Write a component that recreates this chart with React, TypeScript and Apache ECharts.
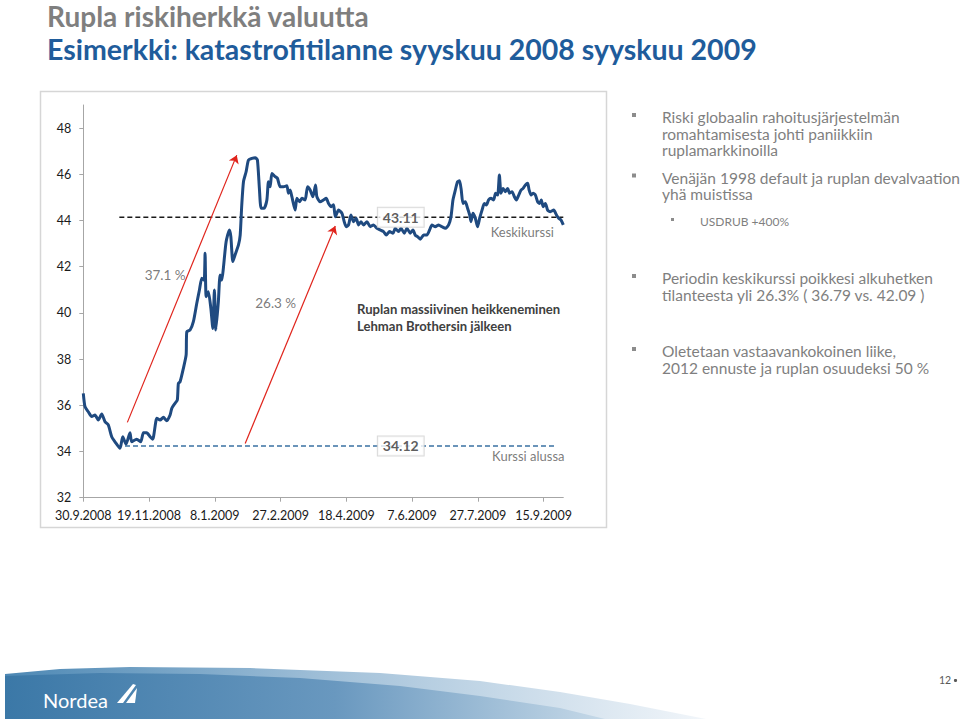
import React, { useEffect, useRef } from "react";
import * as echarts from "echarts";

// X axis: days counted from 30.9.2008, a tick every 50 days
const xTickDays = [0, 50, 100, 150, 200, 250, 300, 350];
const xTickLabels = [
  "30.9.2008", "19.11.2008", "8.1.2009", "27.2.2009",
  "18.4.2009", "7.6.2009", "27.7.2009", "15.9.2009",
];
const yTickValues = [32, 34, 36, 38, 40, 42, 44, 46, 48];

// USD/RUB: [day offset, rate]
const autumn2008: [number, number][] = [
  [0, 36.52], [1.3, 35.94], [3.8, 35.72], [6.4, 35.51], [8.9, 35.58], [11.4, 35.36],
  [14, 35.62], [16.5, 35.29], [19, 35.15], [21.6, 34.64], [24.1, 34.42], [27.9, 34.14],
  [30, 34.64], [32.5, 34.32], [35.5, 34.81], [36.8, 34.42], [40.6, 34.53], [43.7, 34.42],
  [45.7, 34.81], [48.2, 34.81], [50.8, 34.64], [52.8, 34.53], [55.9, 35.44], [58.4, 35.36],
  [60.9, 35.48], [63.5, 35.33], [66, 35.58], [67.3, 35.87], [69.8, 36.09], [71.5, 36.23],
  [72.3, 36.95], [73.6, 37.02], [76.1, 37.6], [78.2, 38.18], [78.7, 39.19], [81.2, 39.26],
  [83.7, 39.62], [86.3, 40.42], [88.3, 40.99],
];
const winter2009: [number, number][] = [
  [90.1, 41.5], [91.9, 41.42], [92.6, 42.58], [93.4, 40.7], [95.1, 40.92], [97, 40.2],
  [98.5, 39.33], [99.7, 40.99], [100.8, 39.26], [102.7, 40.49], [104, 41.64], [105.3, 41.42],
  [106.5, 41.93], [108.6, 43.08], [111.1, 43.59], [112.2, 43.3], [113.7, 42.22], [115.4, 42.51],
  [118, 42.94], [119.3, 43.37], [120.5, 44.67], [121.8, 45.68], [123.8, 46.11], [125.6, 46.62],
  [128.2, 46.69], [130.7, 46.72], [132.4, 46.62], [133.9, 45.39], [135.2, 44.53], [137.5, 44.53],
  [139.6, 44.89], [140.8, 45.68], [142.1, 45.46], [143.4, 46.04], [145.9, 45.9], [147.6, 45.83],
  [149.7, 45.46], [152.2, 45.46], [154.8, 45.5], [156, 45.18], [157.3, 45.32], [158.6, 45.03],
  [161.1, 44.45], [162.4, 44.96], [164.4, 44.81], [166.2, 44.96], [168.7, 44.89], [170.5, 45.46],
  [172.5, 45.32], [174.6, 45.03], [176.6, 45.54], [177.6, 45.03],
];
const spring2009: [number, number][] = [
  [180.1, 44.81], [182.6, 44.89], [184.7, 44.96], [186.5, 44.74], [188.5, 44.6], [190.3, 44.68],
  [191.6, 44.16], [194.1, 44.45], [196.7, 44.31], [198.4, 43.95], [199.9, 43.73], [201.7, 43.81],
  [203.5, 44.24], [205.5, 43.95], [207.5, 44.1], [209.3, 43.81], [211.1, 43.95], [213.1, 43.81],
  [215.7, 43.95], [218.2, 43.73], [220.7, 43.81], [223.3, 43.66], [225.8, 43.59], [228.3, 43.52],
  [230.4, 43.37], [232.9, 43.52], [235.5, 43.45], [237.2, 43.66], [239.7, 43.52], [241.6, 43.66],
  [244.1, 43.45], [246.1, 43.66], [248.6, 43.45], [250.7, 43.59], [252.4, 43.37], [254.2, 43.3],
  [256.2, 43.19], [258.8, 43.37], [261.3, 43.37], [263.3, 43.59], [265.1, 43.81], [267.7, 43.73],
];
const summer2009: [number, number][] = [
  [270.2, 43.81], [272.8, 43.73], [275.3, 43.66], [277.8, 43.81], [279.6, 44.16], [281.1, 44.89],
  [282.9, 45.32], [284.6, 45.68], [286.1, 45.72], [287.4, 45.32], [288.7, 44.74], [290.5, 44.81],
  [292.2, 44.53], [293.8, 44.24], [294.8, 43.95], [296.3, 44.31], [298.1, 44.1], [299.8, 43.73],
  [301.4, 44.1], [303.2, 44.45], [304.9, 44.74], [306.5, 44.67], [308.2, 44.89], [310, 44.96],
  [312, 44.89], [313.5, 45.18], [315.1, 45.1], [316.4, 45.97], [317.6, 45.18], [319.2, 45.39],
  [320.9, 45.25], [322.7, 45.39], [324.2, 45.18], [326, 45.25], [327.8, 45.03], [329.3, 44.89],
  [331.1, 45.1], [332.9, 45.32], [334.4, 45.39], [336.2, 45.54], [337.9, 45.61], [339, 45.32],
  [340.5, 45.1], [342, 45.18], [343.8, 45.1], [345.5, 44.81], [347, 44.74], [348.3, 44.89],
  [349.6, 44.6], [351.4, 44.74], [353.1, 44.45], [355.2, 44.38], [357.7, 44.45], [359.8, 44.24],
  [361.5, 44.1], [363.3, 44.02], [365, 43.81],
];

// Reference levels and annotations
const averageLevel = 44.14;
const averageText = "43.11";
const averageSpan = [27.4, 365];
const startLevel = 34.24;
const startText = "34.12";
const startSpan = [31.7, 359.7];
const boxDay = 241.4;
const arrowCoords: [number, number][][] = [
  [[33.5, 35.26], [116.7, 46.83]],
  [[123.1, 34.35], [191.6, 43.76]],
];
const arrowTexts = ["37.1 %", "26.3 %"];
const arrowTextAt: [number, number][] = [[62.2, 41.66], [146.3, 40.43]];
const levelNames = ["Keskikurssi", "Kurssi alussa"];
const levelNameAt: [number, number][] = [[333.8, 43.52], [338.4, 33.81]];

const FONT = 'Lato, "Noto Sans", sans-serif';

const bulletLines = [
  { t: "Riski globaalin rahoitusjärjestelmän", y: 117, bullet: true },
  { t: "romahtamisesta johti paniikkiin", y: 133.5 },
  { t: "ruplamarkkinoilla", y: 150 },
  { t: "Venäjän 1998 default ja ruplan devalvaation", y: 177.5, bullet: true },
  { t: "yhä muistissa", y: 194 },
  { t: "Periodin keskikurssi poikkesi alkuhetken", y: 278, bullet: true },
  { t: "tilanteesta yli 26.3% ( 36.79 vs. 42.09 )", y: 294.5 },
  { t: "Oletetaan vastaavankokoinen liike,", y: 351, bullet: true },
  { t: "2012 ennuste ja ruplan osuudeksi 50 %", y: 367.5 },
];

export default function App() {
  const ref = useRef<HTMLDivElement>(null);
  useEffect(() => {
    if (!ref.current) return;
    const chart = echarts.init(ref.current, null, { renderer: "svg" });
    const rub = [...autumn2008, ...winter2009, ...spring2009, ...summer2009];

    const txtGray = "#7f7f7f";
    const graphics: any[] = [
      {
        type: "text", x: 47, y: 16,
        style: { text: "Rupla riskiherkkä valuutta", fill: "#7f7f7f", font: `bold 28px ${FONT}`, verticalAlign: "middle", textVerticalAlign: "middle" },
      },
      {
        type: "text", x: 47, y: 48.5,
        style: { text: "Esimerkki: katastrofitilanne syyskuu 2008 syyskuu 2009", fill: "#1f5c9b", font: `bold 28.5px ${FONT}`, verticalAlign: "middle", textVerticalAlign: "middle" },
      },
      {
        type: "rect", shape: { x: 40.5, y: 91.5, width: 566, height: 436 },
        style: { fill: "none", stroke: "#d6d6d6", lineWidth: 1.5 }, z: -1,
      },
      {
        type: "text", x: 357, y: 309,
        style: { text: "Ruplan massiivinen heikkeneminen", fill: "#404040", font: `bold 13.1px ${FONT}`, verticalAlign: "middle", textVerticalAlign: "middle" },
      },
      {
        type: "text", x: 357, y: 325.5,
        style: { text: "Lehman Brothersin jälkeen", fill: "#404040", font: `bold 13.1px ${FONT}`, verticalAlign: "middle", textVerticalAlign: "middle" },
      },
    ];
    bulletLines.forEach((l) => {
      graphics.push({
        type: "text", x: 662, y: l.y,
        style: { text: l.t, fill: txtGray, font: `15.5px ${FONT}`, verticalAlign: "middle", textVerticalAlign: "middle" },
      });
      if (l.bullet) {
        graphics.push({ type: "rect", shape: { x: 632, y: l.y - 4, width: 4, height: 4 }, style: { fill: "#8c8c8c" } });
      }
    });
    graphics.push({
      type: "text", x: 700, y: 221,
      style: { text: "USDRUB +400%", fill: txtGray, font: `12px ${FONT}`, verticalAlign: "middle", textVerticalAlign: "middle" },
    });
    graphics.push({ type: "rect", shape: { x: 671, y: 218, width: 3, height: 3 }, style: { fill: "#8c8c8c" } });

    // footer wave
    graphics.push({
      type: "polygon",
      shape: { points: [[5, 674], [60, 669], [130, 667], [250, 668], [380, 673], [480, 681], [560, 692], [630, 704], [706, 719], [5, 719]] },
      style: {
        fill: { type: "linear", x: 0, y: 0, x2: 1, y2: 0, colorStops: [
          { offset: 0, color: "#4d88b4" }, { offset: 0.5, color: "#a7c4db" }, { offset: 1, color: "#f2f6fa" } ] },
      },
    });
    graphics.push({
      type: "polygon",
      shape: { points: [[5, 676], [100, 673], [200, 674], [300, 678], [400, 686], [480, 696], [560, 708], [605, 719], [5, 719]] },
      style: {
        fill: { type: "linear", x: 0, y: 0, x2: 1, y2: 0, colorStops: [
          { offset: 0, color: "#3b78a7" }, { offset: 0.55, color: "#6998bf" }, { offset: 1, color: "#c6d9e8" } ] },
      },
    });
    graphics.push({
      type: "text", x: 43, y: 700,
      style: { text: "Nordea", fill: "#ffffff", font: `20px ${FONT}`, verticalAlign: "middle", textVerticalAlign: "middle" },
    });
    graphics.push({ type: "polygon", shape: { points: [[117, 703], [133, 684], [136, 685], [123, 703]] }, style: { fill: "#ffffff" } });
    graphics.push({ type: "polygon", shape: { points: [[126, 703], [137, 688], [135, 703]] }, style: { fill: "#ffffff" } });
    graphics.push({
      type: "text", x: 939, y: 680,
      style: { text: "12", fill: "#595959", font: `10.5px ${FONT}`, verticalAlign: "middle", textVerticalAlign: "middle" },
    });
    graphics.push({ type: "circle", shape: { cx: 955.5, cy: 680.5, r: 1.6 }, style: { fill: "#595959" } });

    const labelItems: any[] = [
      {
        value: [boxDay, averageLevel], name: averageText,
        label: { fontWeight: "bold", fontSize: 14, color: "#333", backgroundColor: "#fff", borderColor: "#cfcfcf", borderWidth: 1, padding: [3, 5, 2, 5] },
      },
      {
        value: [boxDay, startLevel], name: startText,
        label: { fontWeight: "bold", fontSize: 14, color: "#333", backgroundColor: "#fff", borderColor: "#cfcfcf", borderWidth: 1, padding: [3, 5, 2, 5] },
      },
      ...arrowTexts.map((t, i) => ({ value: arrowTextAt[i], name: t, label: { fontSize: 13.5, color: "#595959" } })),
      ...levelNames.map((t, i) => ({ value: levelNameAt[i], name: t, label: { fontSize: 13, color: "#595959" } })),
    ];

    chart.setOption({
      animation: false,
      textStyle: { fontFamily: FONT },
      grid: { left: 83.3, right: 396.7, top: 105, bottom: 222.3, containLabel: false, outerBoundsMode: "none" },
      xAxis: {
        type: "value", min: 0, max: 365, interval: 50,
        axisLine: { show: true, lineStyle: { color: "#a6a6a6", width: 1 } },
        axisTick: { show: true, length: 4, lineStyle: { color: "#a6a6a6" }, customValues: xTickDays },
        axisLabel: {
          customValues: xTickDays, margin: 11, fontSize: 12.5, color: "#1a1a1a", fontFamily: FONT,
          formatter: (v: number) => xTickLabels[xTickDays.indexOf(Math.round(v))] ?? "",
        },
        splitLine: { show: false },
      },
      yAxis: {
        type: "value", min: 32, max: 49, interval: 2,
        axisLine: { show: true, lineStyle: { color: "#a6a6a6", width: 1 } },
        axisTick: { show: true, length: 4, lineStyle: { color: "#a6a6a6" }, customValues: yTickValues },
        axisLabel: { customValues: yTickValues, margin: 12, fontSize: 12.5, color: "#1a1a1a", fontFamily: FONT },
        splitLine: { show: false },
      },
      graphic: graphics,
      series: [
        {
          type: "line", name: "USDRUB", data: rub, symbol: "none", showSymbol: false, smooth: 0.2,
          lineStyle: { color: "#1f4a80", width: 3 }, z: 5,
        },
        {
          type: "line", data: averageSpan.map((d) => [d, averageLevel]), symbol: "none", silent: true,
          lineStyle: { color: "#1a1a1a", width: 1.4, type: [5, 3] }, z: 3,
        },
        {
          type: "line", data: startSpan.map((d) => [d, startLevel]), symbol: "none", silent: true,
          lineStyle: { color: "#3a72a2", width: 1.4, type: [5, 3] }, z: 3,
        },
        {
          type: "lines", coordinateSystem: "cartesian2d", silent: true,
          data: arrowCoords.map((c) => ({ coords: c })),
          symbol: ["none", "arrow"], symbolSize: 8,
          lineStyle: { color: "#e0241c", width: 1.2, opacity: 1, curveness: 0 }, z: 4,
        },
        {
          type: "scatter", data: labelItems, symbolSize: 1, silent: true,
          itemStyle: { color: "rgba(0,0,0,0)" },
          label: { show: true, position: "inside", fontFamily: FONT, formatter: (p: any) => p.name },
          z: 10,
        },
      ],
    });
    return () => chart.dispose();
  }, []);
  return <div ref={ref} style={{ position: "absolute", left: 0, top: 0, width: 960, height: 720 }} />;
}
